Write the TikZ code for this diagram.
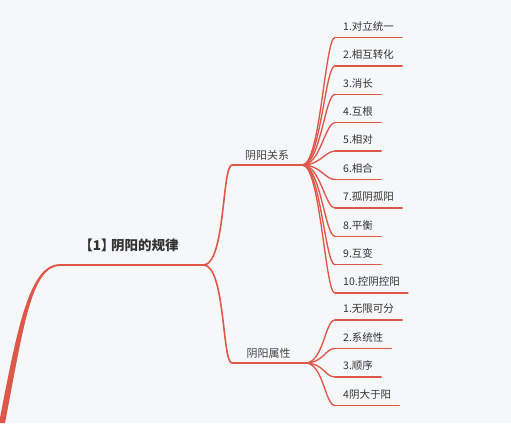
\documentclass[tikz,border=0pt]{standalone}
\usepackage{fontspec}
\setmainfont{Noto Sans CJK SC}
\usepackage{xcolor}
\usetikzlibrary{positioning}
\definecolor{mapBack}{RGB}{246,247,249}
\definecolor{mapLine}{RGB}{222,88,74}
\definecolor{mapText}{RGB}{51,51,51}
\definecolor{mapSubText}{RGB}{68,68,68}
\tikzset{
  rootnode/.style={anchor=south west, inner xsep=0pt, inner ysep=10.9pt,
    minimum width=143pt, text height=10pt, text depth=3pt, align=center,
    font=\fontsize{13.5}{15}\selectfont\bfseries, text=mapText},
  topicnode/.style={anchor=south west, inner xsep=0pt, inner ysep=3.3pt,
    minimum width=70pt, text height=8.5pt, text depth=2.5pt, align=center,
    font=\fontsize{11}{13}\selectfont, text=mapSubText},
  leafnode/.style={anchor=south west, inner xsep=8pt, inner ysep=4.5pt,
    text height=8pt, text depth=2.5pt,
    font=\fontsize{10.5}{12}\selectfont, text=mapText},
  trunk/.style={fill=mapLine},
  mainline/.style={draw=mapLine, line width=1.6pt, line cap=round},
  topicline/.style={draw=mapLine, line width=1.5pt, line cap=round},
  leafline/.style={draw=mapLine, line width=1.35pt, line cap=round},
}
\begin{document}
\begin{tikzpicture}[x=1pt,y=-1pt]
  \useasboundingbox (0,0) rectangle (511,432);
  \fill[mapBack] (0,0) rectangle (511,423);

  % root
  \node[rootnode] (root) at (60,265) {\kern-0.4em【1】\kern-0.25em阴阳的规律};
  \coordinate (foot) at (2,423);
  \fill[trunk] ([xshift=-3pt]foot) .. controls (17,330) and (29,264) .. ([yshift=0.9pt]root.south west)
    -- ([yshift=-0.9pt]root.south west) .. controls (31,266) and (23,330) .. ([xshift=3pt]foot) -- cycle;
  \draw[mainline] (root.south west) -- (root.south east);

  % topics
  \node[topicnode] (rel) at (232,165) {阴阳关系};
  \node[topicnode, minimum width=73pt] (attr) at (232,363) {阴阳属性};
  \draw[mainline] (root.south east) .. controls +(22,0) and +(-10,0) .. (rel.south west);
  \draw[mainline] (root.south east) .. controls +(22,0) and +(-10,0) .. (attr.south west);
  \draw[topicline] (rel.south west) -- (rel.south east);
  \draw[topicline] (attr.south west) -- (attr.south east);

  % 阴阳关系
  \node[leafnode] (r1) at (335,37.5) {1.对立统一};
  \node[leafnode] (r2) at (335,65.9) {2.相互转化};
  \node[leafnode] (r3) at (335,94.3) {3.消长};
  \node[leafnode] (r4) at (335,122.7) {4.互根};
  \node[leafnode] (r5) at (335,151.1) {5.相对};
  \node[leafnode] (r6) at (335,179.5) {6.相合};
  \node[leafnode] (r7) at (335,207.9) {7.孤阴孤阳};
  \node[leafnode] (r8) at (335,236.3) {8.平衡};
  \node[leafnode] (r9) at (335,264.7) {9.互变};
  \node[leafnode] (r10) at (335,293.1) {10.控阴控阳};
  \foreach \n in {r1,r2,r3,r4,r5,r6,r7,r8,r9,r10} {
    \draw[leafline] (rel.south east) .. controls +(18,0) and +(-10,0) .. (\n.south west);
    \draw[leafline] (\n.south west) -- (\n.south east);
  }

  % 阴阳属性
  \node[leafnode] (a1) at (335,320) {1.无限可分};
  \node[leafnode] (a2) at (335,348.5) {2.系统性};
  \node[leafnode] (a3) at (335,377) {3.顺序};
  \node[leafnode] (a4) at (335,405.5) {4阴大于阳};
  \foreach \n in {a1,a2,a3,a4} {
    \draw[leafline] (attr.south east) .. controls +(18,0) and +(-10,0) .. (\n.south west);
    \draw[leafline] (\n.south west) -- (\n.south east);
  }
\end{tikzpicture}
\end{document}
